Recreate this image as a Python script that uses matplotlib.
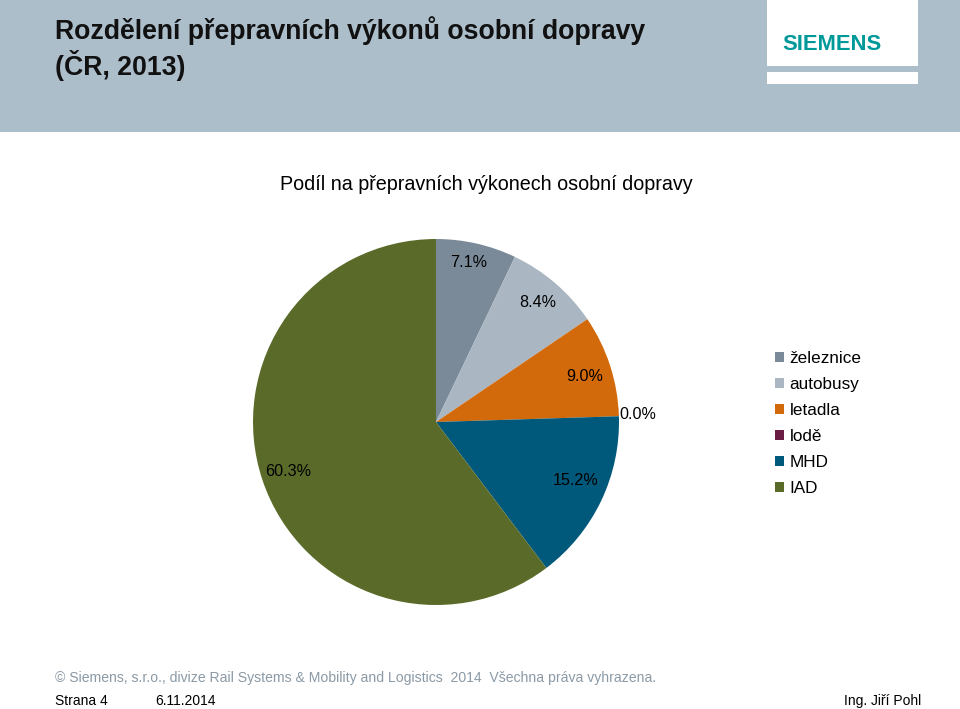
import matplotlib
matplotlib.use("Agg")
import matplotlib.pyplot as plt
from matplotlib.patches import Rectangle, Patch
import numpy as np

categories = ["železnice", "autobusy", "letadla", "lodě", "MHD", "IAD"]
shares = [7.1, 8.4, 9.0, 0.0, 15.2, 60.3]
colors = ["#7a8a98", "#aab7c2", "#d2690a", "#6a1c42", "#00587a", "#5a6b29"]

slide_title = "Rozdělení přepravních výkonů osobní dopravy\n(ČR, 2013)"
chart_title = "Podíl na přepravních výkonech osobní dopravy"
footer_copy = "© Siemens, s.r.o., divize Rail Systems & Mobility and Logistics  2014  Všechna práva vyhrazena."
footer_page = "Strana 4"
footer_date = "6.11.2014"
footer_author = "Ing. Jiří Pohl"

W, H = 960, 709
plt.rcParams['font.family'] = ['Liberation Sans', 'DejaVu Sans']

fig = plt.figure(figsize=(W / 100, H / 100), dpi=100)
ax = fig.add_axes([0, 0, 1, 1])
ax.set_xlim(0, W)
ax.set_ylim(0, H)
ax.set_aspect('equal')
ax.axis('off')

def Y(y):
    return H - y

# header band
ax.add_patch(Rectangle((0, Y(132)), W, 132, facecolor="#adbecb", edgecolor="none", zorder=0))
ax.add_patch(Rectangle((767, Y(66)), 151, 66, facecolor="white", edgecolor="none", zorder=1))
ax.add_patch(Rectangle((767, Y(84)), 151, 12, facecolor="white", edgecolor="none", zorder=1))
ax.text(831.5, Y(44), "SIEMENS", color="#009999", fontsize=15.8, fontweight="bold",
        ha="center", va="center", zorder=2)

ax.text(55, Y(48.5), slide_title, fontsize=19.2, fontweight="bold", color="#111111",
        ha="left", va="center", linespacing=1.18)

ax.text(486, Y(185), chart_title, fontsize=14.2, color="black", ha="center", va="center")

# pie
cx, cy, r = 436, Y(422), 183
wedges, texts, autotexts = ax.pie(
    shares, colors=colors, startangle=90, counterclock=False,
    center=(cx, cy), radius=r, autopct="%.1f%%", pctdistance=0.86,
    wedgeprops=dict(linewidth=0), textprops=dict(fontsize=11.6, color="black"))
ax.set_xlim(0, W)
ax.set_ylim(0, H)

# label placement tweaks (Excel best-fit)
def place(t, ang_cw_from_top, frac):
    th = np.deg2rad(90 - ang_cw_from_top)
    t.set_position((cx + frac * r * np.cos(th), cy + frac * r * np.sin(th)))

place(autotexts[0], 11.7, 0.89)
place(autotexts[1], 40.4, 0.86)
place(autotexts[2], 73.0, 0.85)
place(autotexts[3], 88.0, 1.105)
place(autotexts[4], 112.8, 0.83)
place(autotexts[5], 251.6, 0.85)

handles = [Patch(facecolor=c, edgecolor="none") for c in colors]
fig.legend(handles, categories, loc="upper left",
           bbox_to_anchor=(775 / W, 1 - 351 / H), frameon=False, fontsize=12.3,
           handlelength=0.55, handleheight=0.55, handletextpad=0.3,
           labelspacing=0.645, borderpad=0, borderaxespad=0)

ax.text(55, Y(678), footer_copy, fontsize=10.1, color="#8b9aa6", ha="left", va="center")
ax.text(55, Y(701), footer_page, fontsize=10, color="black", ha="left", va="center")
ax.text(155, Y(701), footer_date, fontsize=10, color="black", ha="left", va="center")
ax.text(921, Y(701), footer_author, fontsize=10, color="black", ha="right", va="center")

fig.savefig("out.png", dpi=100)
